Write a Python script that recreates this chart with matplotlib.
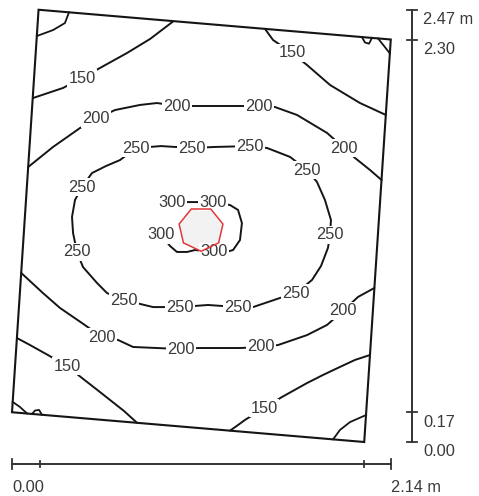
import matplotlib
matplotlib.use("Agg")
import matplotlib.pyplot as plt
from matplotlib.patches import Polygon, RegularPolygon

plt.rcParams["font.family"] = ["Liberation Sans", "DejaVu Sans"]

# room outline (m)
room_x = [0.15, 2.14, 1.99, 0.00]
room_y = [2.47, 2.30, 0.00, 0.17]

# isolux lines, lx; label_idx = vertices where the value is written
c150_nw_x = [0.12, 0.288, 0.395, 0.486, 0.650, 0.780, 0.910]
c150_nw_y = [1.966, 2.023, 2.080, 2.131, 2.223, 2.303, 2.403]
c150_ne_x = [1.429, 1.475, 1.582, 1.667, 1.797, 1.966, 2.112]
c150_ne_y = [2.361, 2.297, 2.223, 2.154, 2.040, 1.937, 1.869]
c150_sw_x = [0.028, 0.102, 0.203, 0.311, 0.395, 0.475, 0.554, 0.633, 0.706]
c150_sw_y = [0.594, 0.554, 0.497, 0.434, 0.366, 0.303, 0.240, 0.177, 0.110]
c150_se_x = [2.022, 1.938, 1.853, 1.757, 1.667, 1.525, 1.424, 1.316, 1.277, 1.232]
c150_se_y = [0.497, 0.469, 0.429, 0.383, 0.337, 0.257, 0.194, 0.126, 0.097, 0.065]

c200_n_x = [0.091, 0.232, 0.384, 0.475, 0.582, 0.723, 0.819, 0.932, 1.034, 1.175,
            1.288, 1.395, 1.486, 1.610, 1.780, 1.876, 1.938, 2.023, 2.088]
c200_n_y = [1.571, 1.686, 1.794, 1.846, 1.897, 1.926, 1.937, 1.920, 1.920, 1.920,
            1.920, 1.920, 1.914, 1.869, 1.766, 1.680, 1.623, 1.554, 1.497]
c200_s_x = [0.052, 0.175, 0.271, 0.395, 0.508, 0.599, 0.684, 0.819, 0.955, 1.051,
            1.175, 1.288, 1.407, 1.503, 1.667, 1.780, 1.870, 1.955, 2.047]
c200_s_y = [0.966, 0.851, 0.766, 0.680, 0.600, 0.583, 0.543, 0.537, 0.531, 0.537,
            0.537, 0.537, 0.543, 0.554, 0.611, 0.669, 0.749, 0.829, 0.880]

c250_x = [0.701, 0.842, 1.017, 1.147, 1.345, 1.441, 1.571, 1.667, 1.723, 1.768,
          1.802, 1.797, 1.785, 1.746, 1.695, 1.605, 1.514, 1.362, 1.277, 1.107,
          0.949, 0.797, 0.633, 0.537, 0.480, 0.401, 0.367, 0.345, 0.339, 0.356,
          0.395, 0.452, 0.531, 0.610, 0.701]
c250_y = [1.680, 1.691, 1.680, 1.686, 1.691, 1.680, 1.629, 1.554, 1.486, 1.383,
          1.269, 1.183, 1.109, 1.006, 0.926, 0.851, 0.823, 0.771, 0.771, 0.783,
          0.771, 0.771, 0.811, 0.851, 0.909, 1.000, 1.086, 1.194, 1.286, 1.383,
          1.457, 1.537, 1.577, 1.611, 1.680]

c300_x = [0.904, 1.017, 1.136, 1.232, 1.277, 1.299, 1.288, 1.249, 1.209, 1.141,
          1.034, 0.989, 0.932, 0.893, 0.842]
c300_y = [1.371, 1.371, 1.371, 1.354, 1.326, 1.251, 1.154, 1.097, 1.086, 1.086,
          1.097, 1.086, 1.086, 1.120, 1.183]

# small unlabelled lines in the corners
corner_nw_x = [0.322, 0.299, 0.232, 0.141]
corner_nw_y = [2.455, 2.394, 2.354, 2.320]
corner_ne_x = [2.068, 2.102, 2.135]
corner_ne_y = [2.306, 2.263, 2.220]
bump_ne_x = [1.977, 1.994, 2.017, 2.034]
bump_ne_y = [2.314, 2.283, 2.276, 2.309]
corner_se_x = [1.814, 1.853, 1.910, 2.000]
corner_se_y = [0.015, 0.069, 0.114, 0.154]
corner_sw_x = [0.004, 0.045, 0.085]
corner_sw_y = [0.229, 0.200, 0.163]
bump_sw_x = [0.113, 0.130, 0.153, 0.169]
bump_sw_y = [0.160, 0.180, 0.183, 0.156]

# luminaire position and size
lum_x, lum_y, lum_r = 1.068, 1.217, 0.127

# scales
scale_x_ticks = [0.00, 0.16, 1.99, 2.14]
scale_x_labels = {0.00: "0.00", 2.14: "2.14 m"}
scale_y_ticks = [0.00, 0.17, 2.30, 2.47]
scale_y_labels = ["0.00", "0.17", "2.30", "2.47 m"]

isolines = [
    (150, c150_nw_x, c150_nw_y, [2]),
    (150, c150_ne_x, c150_ne_y, [2]),
    (150, c150_sw_x, c150_sw_y, [3]),
    (150, c150_se_x, c150_se_y, [6]),
    (200, c200_n_x, c200_n_y, [3, 7, 11, 15]),
    (200, c200_s_x, c200_s_y, [4, 8, 12, 16]),
    (250, c250_x, c250_y, [0, 2, 4, 7, 11, 15, 18, 20, 22, 26, 30]),
    (300, c300_x, c300_y, [0, 2, 9, 14]),
]
corner_lines = [
    (corner_nw_x, corner_nw_y), (corner_ne_x, corner_ne_y), (bump_ne_x, bump_ne_y),
    (corner_se_x, corner_se_y), (corner_sw_x, corner_sw_y), (bump_sw_x, bump_sw_y),
]

LINE = "#151515"
TEXT = "#3a3a3a"
FS = 11.8

fig = plt.figure(figsize=(4.79, 4.96), dpi=100)
ax = fig.add_axes([0, 0, 1, 1])
ax.set_xlim(-12 / 177, 467 / 177)
ax.set_ylim(-54 / 175, 442 / 175)
ax.axis("off")

ax.add_patch(Polygon(list(zip(room_x, room_y)), closed=True, fill=False,
                     edgecolor=LINE, linewidth=1.5, zorder=2))

for xs, ys in corner_lines:
    ax.plot(xs, ys, color=LINE, linewidth=1.3, zorder=2)

for level, xs, ys, label_idx in isolines:
    ax.plot(xs, ys, color=LINE, linewidth=1.4, solid_capstyle="round", zorder=2)
    for i in label_idx:
        ax.text(xs[i], ys[i], str(level), fontsize=FS, color=TEXT,
                ha="center", va="center", zorder=3,
                bbox=dict(boxstyle="square,pad=0.1", fc="white", ec="none"))

# luminaire
ax.add_patch(RegularPolygon((lum_x, lum_y), 7, radius=lum_r, orientation=3.14159,
                            facecolor="#f2f2f2", edgecolor="none", zorder=1))
ax.add_patch(RegularPolygon((lum_x, lum_y), 7, radius=lum_r, orientation=3.14159,
                            fill=False, edgecolor="#e0393c", linewidth=1.1, zorder=4))

# horizontal scale
sx_y = -0.126
ax.plot([scale_x_ticks[0], scale_x_ticks[-1]], [sx_y, sx_y], color="#333333", linewidth=1.4)
for t in scale_x_ticks:
    h = 0.028 if t in (scale_x_ticks[0], scale_x_ticks[-1]) else 0.018
    ax.plot([t, t], [sx_y - h, sx_y + h], color="#333333", linewidth=1.3)
for t, s in scale_x_labels.items():
    ax.text(t, -0.262, s, fontsize=FS, color=TEXT, ha="left", va="center")

# vertical scale
sy_x = 2.26
ax.plot([sy_x, sy_x], [scale_y_ticks[0], scale_y_ticks[-1]], color="#333333", linewidth=1.4)
for t, s in zip(scale_y_ticks, scale_y_labels):
    ax.plot([sy_x - 0.026, sy_x + 0.026], [t, t], color="#333333", linewidth=1.3)
    ax.text(2.322, t - 0.057, s, fontsize=FS, color=TEXT, ha="left", va="center")

fig.savefig("out.png", dpi=100)
